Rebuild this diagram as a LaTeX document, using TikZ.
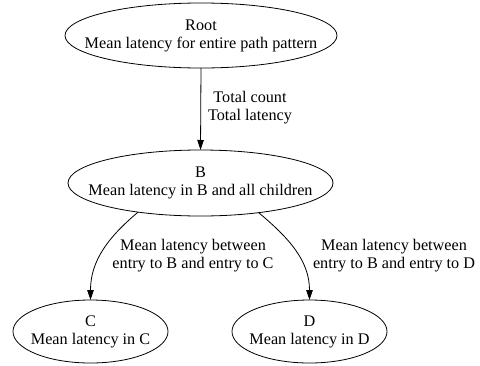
\documentclass[tikz,border=0pt]{standalone}
\usepackage{fontspec}
\setmainfont{Liberation Serif}
\usetikzlibrary{arrows.meta, shapes.geometric}

\begin{document}
\begin{tikzpicture}[
         x = 1pt, y = -1pt,
   font = \fontsize{16.2}{18}\selectfont,
MyNode/.style={draw, ellipse, line width=0.8pt, inner xsep=-60pt,
                inner ysep=0pt, align=center, outer sep=0pt},
MyEdge/.style={line width=0.8pt, -{Triangle[length=10pt, width=6.5pt]}},
MyLabel/.style={align=center, inner sep=0pt},
  ]
\useasboundingbox (0,0) rectangle (480,365);
\node [MyNode, minimum width=272pt, minimum height=65pt] (root) at (201,35.5)
      {Root\\Mean latency for entire path pattern};
\node [MyNode, minimum width=265pt, minimum height=66pt] (b) at (200.5,183)
      {B\\Mean latency in B and all children};
\node [MyNode, minimum width=155pt, minimum height=63pt] (c) at (90.5,331.5)
      {C\\Mean latency in C};
\node [MyNode, minimum width=155pt, minimum height=63pt] (d) at (309.5,331.5)
      {D\\Mean latency in D};
\node [MyLabel] (lroot) at (250,108) {Total count\\Total latency};
\node [MyLabel] (lc) at (193,256) {Mean latency between\\entry to B and entry to C};
\node [MyLabel] (ld) at (394,256) {Mean latency between\\entry to B and entry to D};
% edges
\draw [MyEdge] (root.south) -- (b.north);
\draw [MyEdge] (b.-155) to [out=-140, in=90] (c.north);
\draw [MyEdge] (b.-27) to [out=-40, in=90] (d.north);
\end{tikzpicture}
\end{document}
